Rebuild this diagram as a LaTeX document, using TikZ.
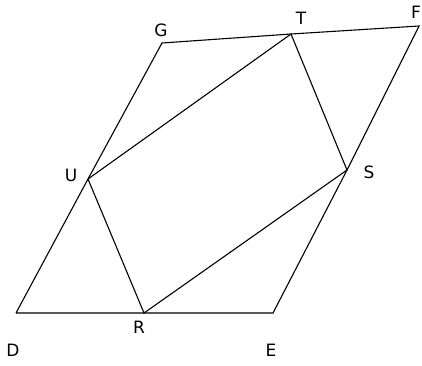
\documentclass[tikz,border=0pt]{standalone}
\usepackage{fontspec}
\setmainfont{DejaVu Sans}
\begin{document}
\begin{tikzpicture}[x=1pt,y=-1pt,
  edge/.style={line width=1.1pt,black},
  lbl/.style={font=\fontsize{17}{17}\selectfont,inner sep=0pt}]
\useasboundingbox (0,0) rectangle (422,365);
\coordinate (D) at (16,313);
\coordinate (E) at (273,313);
\coordinate (F) at (419,26);
\coordinate (G) at (162,43);
\coordinate (T) at (291,34);
\coordinate (S) at (347,170);
\coordinate (U) at (88,179);
\coordinate (R) at (144,313);
\draw[edge] (D) -- (R) -- (E) -- (S) -- (F) -- (T) -- (G) -- (U) -- (D);
\draw[edge] (U) -- (T) -- (S) -- (R) -- (U);
\node[lbl] (lG) at (161,30) {G};
\node[lbl] (lT) at (301,18) {T};
\node[lbl] (lF) at (416,12) {F};
\node[lbl] (lU) at (71,175) {U};
\node[lbl] (lS) at (369,172) {S};
\node[lbl] (lD) at (13,350) {D};
\node[lbl] (lR) at (139,327) {R};
\node[lbl] (lE) at (271,350) {E};
\end{tikzpicture}
\end{document}
